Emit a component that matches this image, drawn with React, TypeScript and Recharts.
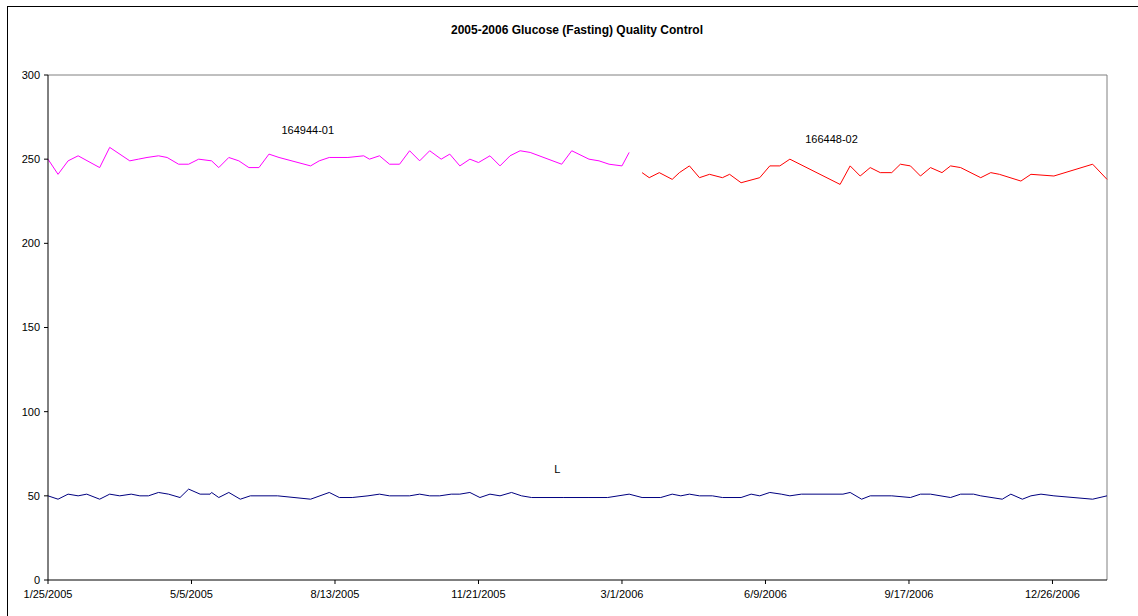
import { LineChart, Line, XAxis, YAxis, ReferenceLine, ReferenceDot } from 'recharts';

// days since 1/25/2005
const lotADays = [0, 7, 14, 21, 36, 43, 57, 63, 69, 77, 83, 91, 98, 105, 114, 119, 126, 133, 140, 147, 154, 161, 183, 189, 196, 209, 220, 224, 231, 238, 245, 252, 259, 266, 274, 280, 287, 294, 300, 308, 315, 322, 329, 336, 358, 365, 377, 384, 391, 400, 405];
const lotAValues = [250, 241, 249, 252, 245, 257, 249, 250, 251, 252, 251, 247, 247, 250, 249, 245, 251, 249, 245, 245, 253, 251, 246, 249, 251, 251, 252, 250, 252, 247, 247, 255, 249, 255, 250, 253, 246, 250, 248, 252, 246, 252, 255, 254, 247, 255, 250, 249, 247, 246, 254];

const lotBDays = [414, 419, 426, 435, 440, 447, 454, 461, 470, 475, 483, 496, 503, 510, 517, 552, 559, 566, 573, 580, 588, 594, 601, 608, 615, 623, 629, 636, 650, 657, 663, 678, 685, 701, 728, 738];
const lotBValues = [242, 239, 242, 238, 242, 246, 239, 241, 239, 241, 236, 239, 246, 246, 250, 235, 246, 240, 245, 242, 242, 247, 246, 240, 245, 242, 246, 245, 239, 242, 241, 237, 241, 240, 247, 238];

const lowDays = [0, 7, 14, 21, 27, 36, 43, 50, 58, 64, 70, 77, 84, 92, 98, 106, 113, 114, 119, 126, 134, 141, 160, 183, 196, 203, 212, 223, 231, 238, 252, 259, 266, 273, 281, 287, 294, 301, 308, 315, 323, 330, 337, 359, 377, 390, 405, 414, 427, 435, 441, 447, 454, 463, 470, 483, 490, 496, 503, 511, 517, 525, 554, 559, 567, 573, 588, 601, 608, 615, 629, 636, 645, 650, 665, 671, 679, 685, 692, 701, 728, 738];
const lowValues = [
  50, 48, 51, 50, 51, 48, 51, 50, 51, 50,
  50, 52, 51, 49, 54, 51, 51, 52, 49, 52,
  48, 50, 50, 48, 52, 49, 49, 50, 51, 50,
  50, 51, 50, 50, 51, 51, 52, 49, 51, 50,
  52, 50, 49, 49, 49, 49, 51, 49, 49, 51,
  50, 51, 50, 50, 49, 49, 51, 50, 52, 51,
  50, 51, 51, 52, 48, 50, 50, 49, 51, 51,
  49, 51, 51, 50, 48, 51, 48, 50, 51, 50,
  48, 50,
];

const xTicks = [0, 100, 200, 300, 400, 500, 600, 700];
const yTicks = [0, 50, 100, 150, 200, 250, 300];

const START = Date.UTC(2005, 0, 25);
const fmtDay = (d: number) => {
  const dt = new Date(START + d * 86400000);
  return `${dt.getUTCMonth() + 1}/${dt.getUTCDate()}/${dt.getUTCFullYear()}`;
};

const toRows = (days: number[], vals: number[]) => days.map((d, i) => ({ day: d, v: vals[i] }));

const font = '"Liberation Sans", Arial, sans-serif';
const tick = { fontSize: 11, fill: '#000', fontFamily: font };
const lbl = (value: string) => ({ value, position: 'center' as const, fill: '#000', fontSize: 11, fontFamily: font });

export default function App() {
  return (
    <div style={{ position: 'absolute', left: 0, top: 0, width: 1138, height: 616, overflow: 'hidden', background: '#fff' }}>
      <div style={{ position: 'absolute', left: 7, top: 6, width: 1140, height: 640, border: '1px solid #000' }} />
      <div
        style={{
          position: 'absolute', left: 577, top: 23, transform: 'translateX(-50%)', whiteSpace: 'nowrap',
          fontFamily: font, fontWeight: 'bold', fontSize: 12, color: '#000',
        }}
      >
        2005-2006 Glucose (Fasting) Quality Control
      </div>
      <div style={{ position: 'absolute', left: 0, top: 0 }}>
        <LineChart width={1138} height={616} margin={{ top: 75, right: 31, left: 0, bottom: 0 }}>
          <XAxis
            dataKey="day"
            type="number"
            domain={[0, 738]}
            ticks={xTicks}
            tickFormatter={fmtDay}
            tick={tick}
            height={36}
            stroke="#000"
            tickSize={4}
            tickMargin={6}
            interval={0}
          />
          <YAxis
            type="number"
            domain={[0, 300]}
            ticks={yTicks}
            tick={tick}
            width={48}
            stroke="#000"
            tickSize={4}
            tickMargin={4}
            interval={0}
          />
          <ReferenceLine y={300} stroke="#808080" />
          <ReferenceLine x={738} stroke="#808080" />
          <Line data={toRows(lotADays, lotAValues)} dataKey="v" stroke="#FF00FF" strokeWidth={1} dot={false} isAnimationActive={false} />
          <Line data={toRows(lotBDays, lotBValues)} dataKey="v" stroke="#FF0000" strokeWidth={1} dot={false} isAnimationActive={false} />
          <Line data={toRows(lowDays, lowValues)} dataKey="v" stroke="#000080" strokeWidth={1} dot={false} isAnimationActive={false} />
          <ReferenceDot x={181} y={267} r={0} stroke="none" fill="none" label={lbl('164944-01')} />
          <ReferenceDot x={546} y={262} r={0} stroke="none" fill="none" label={lbl('166448-02')} />
          <ReferenceDot x={355} y={66} r={0} stroke="none" fill="none" label={lbl('L')} />
        </LineChart>
      </div>
    </div>
  );
}
